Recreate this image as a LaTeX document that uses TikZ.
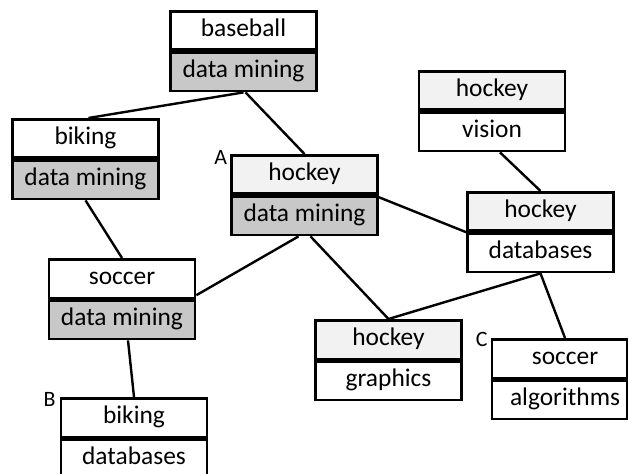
\documentclass[tikz,border=0pt]{standalone}
\usepackage{fontspec}
\setmainfont{Carlito}
\definecolor{dm}{RGB}{200,200,200}
\definecolor{hk}{RGB}{242,242,242}
\tikzset{
  cell/.style={draw, line width=2.7bp, minimum width=146bp, minimum height=38.5bp,
    inner sep=0pt, anchor=north, font=\fontsize{25.5}{29}\selectfont,
    text height=17.5bp, text depth=5.5bp},
  celltext/.style={inner sep=0pt, font=\fontsize{25.5}{29}\selectfont,
    text height=17.5bp, text depth=5.5bp, xshift=5.5bp},
  edge/.style={line width=2.4bp},
  tag/.style={inner sep=0pt, anchor=base east, font=\fontsize{22}{26}\selectfont}
}
\begin{document}
\begin{tikzpicture}[x=1bp, y=-1bp]
\useasboundingbox[fill=white] (0,0) rectangle (628,474);
% nodes
\node[cell, fill=white] (t1) at (243.5,10) {baseball};
\node[cell, fill=dm] (b1) at (t1.south) {data mining};
\node[cell, fill=white] (t2) at (85.5,118) {biking};
\node[cell, fill=dm] (b2) at (t2.south) {data mining};
\node[cell, fill=hk] (t3) at (304.5,154) {hockey};
\node[cell, fill=dm] (b3) at (t3.south) {data mining};
\node[cell, fill=hk] (t4) at (492,70) {hockey};
\node[cell, fill=white] (b4) at (t4.south) {vision};
\node[cell, fill=hk] (t5) at (540.5,191) {hockey};
\node[cell, fill=white] (b5) at (t5.south) {databases};
\node[cell, fill=white] (t6) at (122,258) {soccer};
\node[cell, fill=dm] (b6) at (t6.south) {data mining};
\node[cell, fill=hk] (t7) at (388.5,319) {hockey};
\node[cell, fill=white] (b7) at (t7.south) {graphics};
\node[cell, fill=white, minimum width=135bp, label={[celltext]center:soccer}] (t8) at (559.5,338) {};
\node[cell, fill=white, minimum width=135bp, label={[celltext]center:algorithms}] (b8) at (t8.south) {};
\node[cell, fill=white] (t9) at (134,397) {biking};
\node[cell, fill=white] (b9) at (t9.south) {databases};
% tags
\node[tag] (la) at ([xshift=-3bp, yshift=-11bp]t3.north west) {A};
\node[tag] (lb) at ([xshift=-4bp, yshift=-9bp]t9.north west) {B};
\node[tag] (lc) at ([xshift=-3bp, yshift=-8bp]t8.north west) {C};
% connectors
\draw[edge] (b1.south) -- ([xshift=3bp]t2.north);
\draw[edge] ([xshift=2bp]b1.south) -- (t3.north);
\draw[edge] (b2.south) -- (t6.north);
\draw[edge] ([yshift=4bp]t6.south east) -- ([xshift=-6bp]b3.south);
\draw[edge] ([xshift=6bp]b3.south) -- (t7.north);
\draw[edge] (t7.north) -- (b5.south);
\draw[edge] (b5.south) -- ([xshift=5.5bp]t8.north);
\draw[edge] ([yshift=-2bp]b3.north east) -- (b5.north west);
\draw[edge] ([xshift=8bp]b4.south) -- (t5.north);
\draw[edge] ([xshift=6bp]b6.south) -- (t9.north);
\end{tikzpicture}
\end{document}
